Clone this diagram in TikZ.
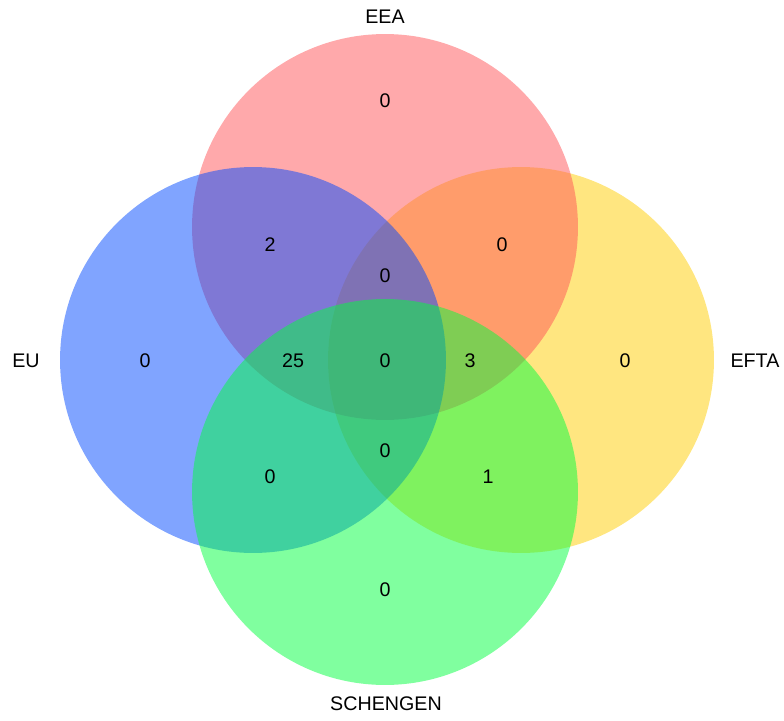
\documentclass[tikz,border=0pt]{standalone}
\usepackage{fontspec}
\setmainfont{Liberation Sans}
\usetikzlibrary{positioning}

\definecolor{eeared}{RGB}{255,83,87}
\definecolor{eublue}{RGB}{1,73,255}
\definecolor{eftayellow}{RGB}{255,205,1}
\definecolor{schgreen}{RGB}{1,255,63}

\tikzset{
  set/.style = {circle, minimum size=7.72cm, inner sep=0pt, fill opacity=0.5},
  setname/.style = {font=\fontsize{11.2}{13}\selectfont},
  count/.style = {font=\fontsize{11.2}{13}\selectfont}
}

\begin{document}
\begin{tikzpicture}[x=0.02cm, y=-0.02cm]
    \useasboundingbox (0,0) rectangle (784,720);

    % the four sets
    \node[set, fill=eftayellow] (efta) at (521,360) {};
    \node[set, fill=eeared] (eea) at (385,227) {};
    \node[set, fill=eublue] (eu) at (253,360) {};
    \node[set, fill=schgreen] (schengen) at (385,492) {};

    \node[setname] (eeaname) at (385,17) {EEA};
    \node[setname] (euname) at (26,361) {EU};
    \node[setname] (eftaname) at (755,361) {EFTA};
    \node[setname] (schname) at (386,704) {SCHENGEN};

    % region counts
    \node[count] (n1) at (385,101) {0};
    \node[count] (n2) at (270,245) {2};
    \node[count] (n3) at (502,245) {0};
    \node[count] (n4) at (385,276) {0};
    \node[count] (n5) at (145,361) {0};
    \node[count] (n6) at (293,361) {25};
    \node[count] (n7) at (385,361) {0};
    \node[count] (n8) at (470,361) {3};
    \node[count] (n9) at (625,361) {0};
    \node[count] (n10) at (385,451) {0};
    \node[count] (n11) at (270,477) {0};
    \node[count] (n12) at (488,477) {1};
    \node[count] (n13) at (385,590) {0};
\end{tikzpicture}
\end{document}
